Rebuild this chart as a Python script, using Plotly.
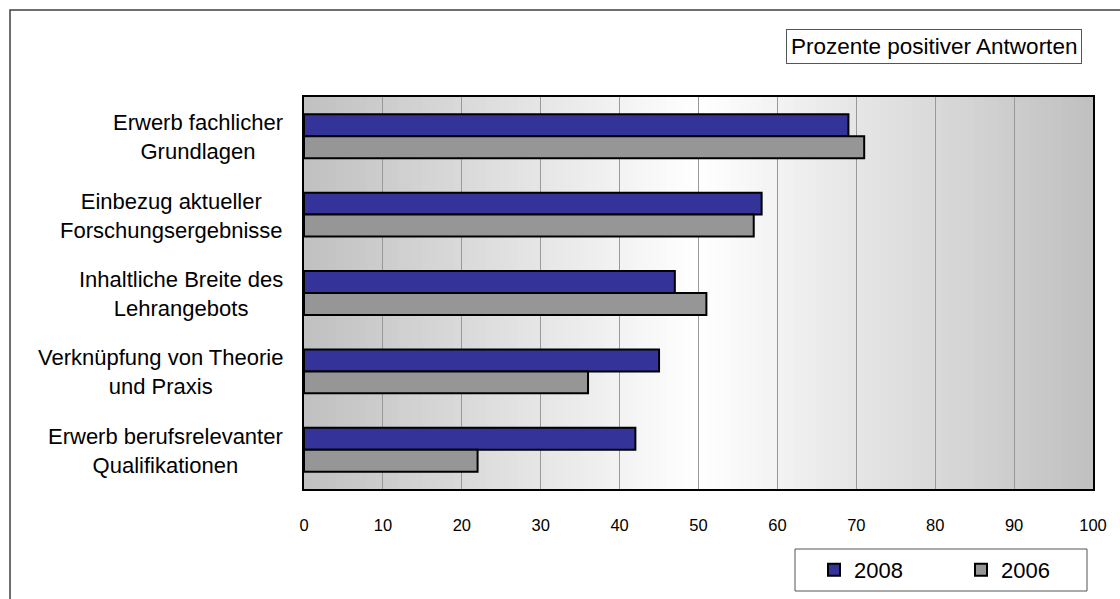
import plotly.graph_objects as go

categories = [
    "Erwerb fachlicher<br>Grundlagen",
    "Einbezug aktueller<br>Forschungsergebnisse",
    "Inhaltliche Breite des<br>Lehrangebots",
    "Verknüpfung von Theorie<br>und Praxis",
    "Erwerb berufsrelevanter<br>Qualifikationen",
]
values_2008 = [69, 58, 47, 45, 42]
values_2006 = [71, 57, 51, 36, 22]
x_ticks = [0, 10, 20, 30, 40, 50, 60, 70, 80, 90, 100]

FONT = "Liberation Sans, Arial, sans-serif"

fig = go.Figure()
fig.add_trace(go.Bar(
    y=categories, x=values_2008, name="2008", orientation="h",
    marker=dict(color="#333399", line=dict(color="black", width=2)),
))
fig.add_trace(go.Bar(
    y=categories, x=values_2006, name="2006", orientation="h",
    marker=dict(color="#969696", line=dict(color="black", width=2)),
))

# horizontal background gradient (grey -> white -> grey)
shapes = []
for i in range(100):
    t = (i + 0.5) / 100.0
    d = abs(t - 0.5) / 0.5
    g = int(round(255 - 63 * d))
    shapes.append(dict(
        type="rect", xref="x", yref="paper", x0=i, x1=min(i + 1.6, 100), y0=0, y1=1,
        fillcolor=f"rgb({g},{g},{g})", line=dict(width=0), layer="below",
    ))

# outer chart frame
shapes.append(dict(
    type="rect", xref="paper", yref="paper",
    x0=-0.3726, x1=1.06, y0=-0.32, y1=1.2219,
    line=dict(color="#404040", width=1.5), fillcolor="rgba(0,0,0,0)", layer="above",
))
# legend box
shapes.append(dict(
    type="rect", xref="paper", yref="paper",
    x0=(795 - 304) / 789, x1=(1087 - 304) / 789,
    y0=-(591 - 489) / 392, y1=-(549 - 489) / 392,
    line=dict(color="#555555", width=1), fillcolor="white", layer="above",
))

annotations = []
for c in categories:
    annotations.append(dict(
        xref="paper", yref="y", x=0, y=c, xshift=-19, yshift=-1,
        text=c, showarrow=False, xanchor="right", yanchor="middle", align="center",
        font=dict(family=FONT, size=22, color="black"),
    ))
annotations.append(dict(
    xref="paper", yref="paper", x=(933.5 - 304) / 789, y=(489 - 46.5) / 392,
    text="Prozente positiver Antworten", showarrow=False,
    xanchor="center", yanchor="middle",
    font=dict(family=FONT, size=22.5, color="black"),
    bordercolor="#555555", borderwidth=1, borderpad=4, bgcolor="white",
))

fig.update_layout(
    width=1120, height=599,
    margin=dict(l=304, r=27, t=97, b=110, autoexpand=False),
    paper_bgcolor="white", plot_bgcolor="white",
    barmode="group", bargap=0.44, bargroupgap=0,
    shapes=shapes, annotations=annotations,
    font=dict(family=FONT, color="black"),
    legend=dict(
        orientation="h", x=(814 - 304) / 789, y=-(549 - 489) / 392,
        xanchor="left", yanchor="top",
        borderwidth=0, bgcolor="rgba(0,0,0,0)",
        font=dict(family=FONT, size=22, color="black"),
        entrywidth=102, entrywidthmode="pixels", traceorder="normal",
    ),
    xaxis=dict(
        range=[0, 100], tickvals=x_ticks, ticktext=[str(v) for v in x_ticks],
        showgrid=True, gridcolor="#999999", gridwidth=1, zeroline=False,
        showline=True, mirror=True, linecolor="black", linewidth=2,
        ticks="", ticklabelstandoff=20,
        tickfont=dict(family=FONT, size=16.5, color="black"),
    ),
    yaxis=dict(
        autorange="reversed", showticklabels=False, showgrid=False,
        showline=True, mirror=True, linecolor="black", linewidth=2, ticks="",
    ),
)

fig.write_html(
    "out.html",
    config={"displayModeBar": False},
    post_script="document.body.style.margin='0';document.body.style.overflow='hidden';",
)
